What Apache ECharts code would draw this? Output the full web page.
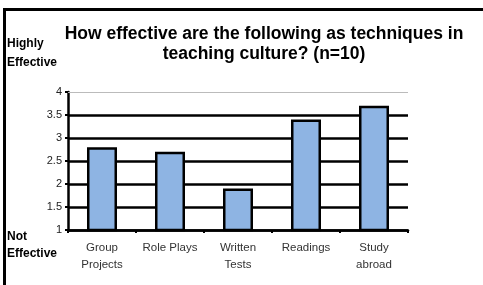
<!DOCTYPE html>
<html><head><meta charset="utf-8">
<script src="https://cdn.jsdelivr.net/npm/echarts@6/dist/echarts.min.js"></script>
<style>html,body{margin:0;padding:0;background:#fff}#c{width:483px;height:285px}</style>
</head><body><div id="c"></div>
<script>
const categories = ["Group\nProjects", "Role Plays", "Written\nTests", "Readings", "Study\nabroad"];
const values = [2.8, 2.7, 1.9, 3.4, 3.7];
const yTicks = [1, 1.5, 2, 2.5, 3, 3.5, 4];
const titleText = "How effective are the following as techniques in\nteaching culture? (n=10)";

const chart = echarts.init(document.getElementById('c'), null, {renderer: 'canvas'});
const F = '"Liberation Sans", Arial, sans-serif';
chart.setOption({
  animation: false,
  title: {
    text: titleText, left: 259, top: 19, textAlign: 'center',
    textStyle: {fontFamily: F, fontSize: 17.5, fontWeight: 'bold', color: '#000', lineHeight: 20}
  },
  grid: {left: 68, right: 75, top: 92, bottom: 55},
  xAxis: {
    type: 'category', data: categories,
    axisLine: {lineStyle: {color: '#000', width: 2.5}},
    axisTick: {show: true, length: 3, lineStyle: {color: '#000', width: 2}},
    axisLabel: {fontFamily: F, fontSize: 11.5, color: '#333', lineHeight: 17, margin: 9, interval: 0}
  },
  yAxis: {
    type: 'value', min: yTicks[0], max: yTicks[yTicks.length - 1], interval: 0.5,
    axisLine: {show: true, lineStyle: {color: '#000', width: 2.5}},
    axisTick: {show: true, length: 3, lineStyle: {color: '#000', width: 2}},
    axisLabel: {fontFamily: F, fontSize: 11, color: '#222', margin: 6},
    splitLine: {show: true, lineStyle: {color: ['#000', '#000', '#000', '#000', '#000', '#000', 'rgba(0,0,0,0)'], width: 2.5}}
  },
  series: [{
    type: 'bar', data: values, barWidth: 30,
    itemStyle: {color: '#8EB4E3', borderColor: '#000', borderWidth: 2.5},
    markLine: {
      silent: true, symbol: 'none', label: {show: false},
      lineStyle: {color: '#bbb', width: 1, type: 'solid'},
      data: [{yAxis: yTicks[yTicks.length - 1]}]
    }
  }],
  graphic: [
    {type: 'rect', shape: {x: 3, y: 8, width: 3, height: 285}, style: {fill: '#000'}},
    {type: 'rect', shape: {x: 3, y: 8, width: 480, height: 3}, style: {fill: '#000'}},
    {type: 'text', left: 7, top: 34, style: {text: 'Highly\nEffective', font: 'bold 12px ' + F, fill: '#000', lineHeight: 19}},
    {type: 'text', left: 7, top: 228, style: {text: 'Not\nEffective', font: 'bold 12px ' + F, fill: '#000', lineHeight: 17}}
  ]
});
</script></body></html>
